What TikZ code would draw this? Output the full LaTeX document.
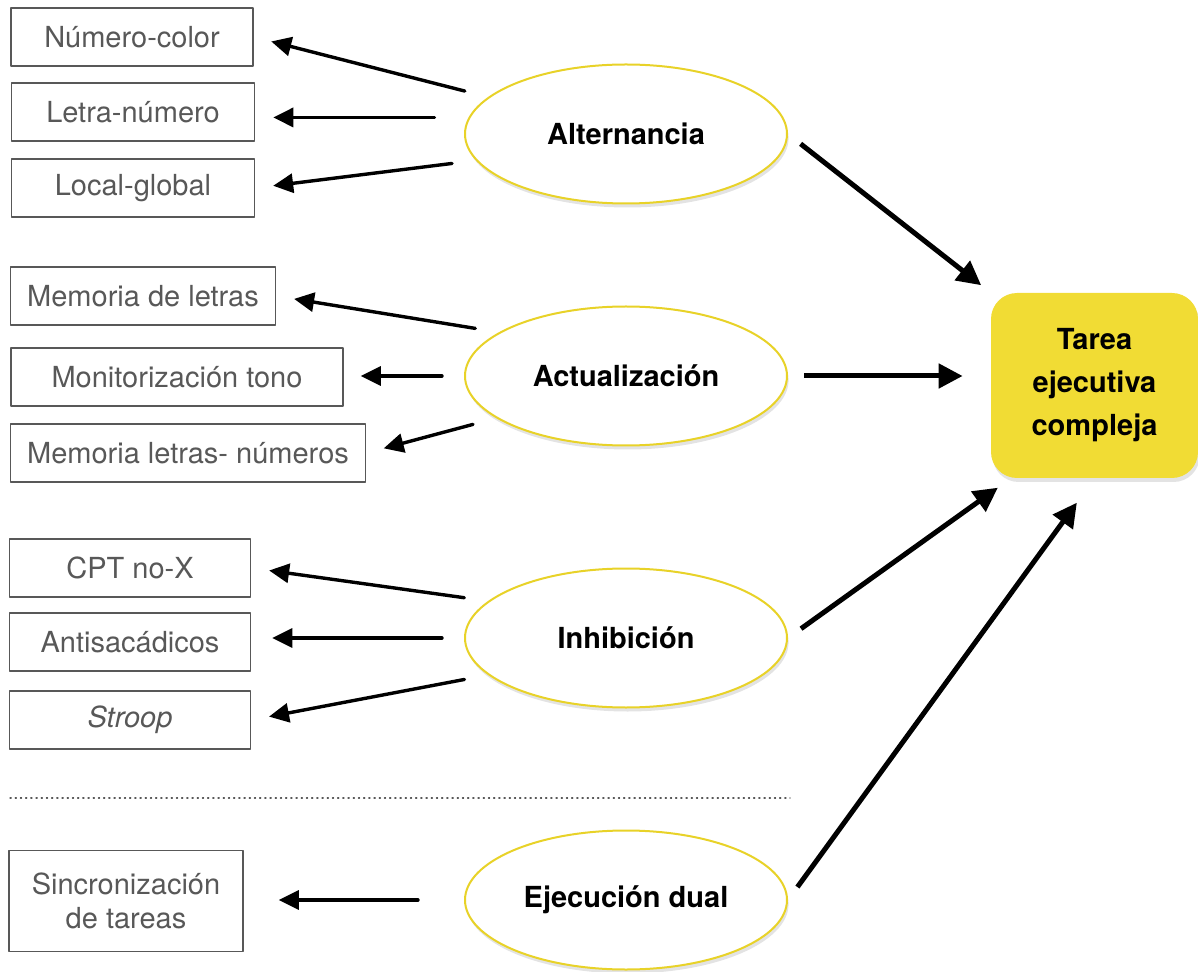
\documentclass[tikz,border=0pt]{standalone}
\usepackage{fontspec}
\setmainfont{TeX Gyre Heros}
\usetikzlibrary{shapes.geometric,arrows.meta,shadows}
\definecolor{tekyellow}{RGB}{241,220,52}
\definecolor{rimyellow}{RGB}{232,210,40}
\definecolor{boxgray}{RGB}{88,88,88}
\begin{document}
\begin{tikzpicture}[x=0.5pt, y=-0.5pt, font=\fontsize{14.5}{17}\selectfont, line join=round, line cap=round,
	taskbox/.style={draw=boxgray, line width=0.8pt, text=boxgray, minimum height=29pt, inner sep=2pt, align=center},
	factor/.style={ellipse, draw=rimyellow, line width=1pt, fill=white, minimum width=161pt, minimum height=69.5pt, inner sep=0pt, font=\fontsize{14.5}{17}\selectfont\bfseries, drop shadow={shadow xshift=0.8pt, shadow yshift=-2pt, opacity=0.22}},
	sketch/.style={-{Triangle[length=10pt, width=9.5pt]}, line width=1.7pt, shorten <=12pt, shorten >=9pt},
	feed/.style={-{Triangle[length=12pt, width=12pt]}, line width=2.5pt, line cap=butt}]
	\useasboundingbox (0,0) rectangle (1198,972);
	\foreach \n/\x/\y/\w/\t in {numcol/132/37/121/Número-color, letnum/133/112/121.5/Letra-número, locglo/133/188/121.5/Local-global, memlet/143/296/132.5/Memoria de letras, montono/177/377/166/Monitorización tono, memnum/188/453/177.5/Memoria letras- números, cpt/130/568/120.5/CPT no-X, antisac/130/642/120.5/Antisacádicos, stroop/130/720/120.5/\textit{Stroop}}
		{\node[taskbox, minimum width=\w pt] (\n) at (\x,\y) {\t};}
	\node[taskbox, minimum width=117pt, minimum height=50.5pt] (sinc) at (126,901) {Sincronización\\de tareas};
	\node[factor] (alt) at (626,134) {Alternancia};
	\node[factor] (act) at (626,376) {Actualización};
	\node[factor] (inh) at (626,638) {Inhibición};
	\node[factor] (dual) at (626,900) {Ejecución dual};
	\node[fill=tekyellow, rounded corners=13pt, minimum width=103.5pt, minimum height=92.5pt, align=center, font=\fontsize{14.5}{21.5}\selectfont\bfseries, drop shadow={shadow xshift=0.8pt, shadow yshift=-2pt, opacity=0.22}] (tek) at (1094.5,385.5) {Tarea\\ejecutiva\\compleja};
	\draw[boxgray, dotted, line width=0.6pt] (10,798) -- (790,798);
	\draw[sketch] (alt.165) -- (numcol.east);
	\draw[sketch, shorten <=17pt] (alt.174) -- (alt.174 -| letnum.east);
	\draw[sketch] (alt.190) -- (locglo.east);
	\draw[sketch] (act.161) -- (memlet.east);
	\draw[sketch, shorten <=11pt, shorten >=8.5pt] (act.west) -- (act.west -| montono.east);
	\draw[sketch] (act.198) -- (memnum.east);
	\draw[sketch] (inh.165) -- (cpt.east);
	\draw[sketch, shorten <=11pt, shorten >=10.5pt] (inh.west) -- (inh.west -| antisac.east);
	\draw[sketch] (inh.195) -- (stroop.east);
	\draw[sketch, shorten <=23pt, shorten >=17.5pt] (dual.west) -- (dual.west -| sinc.east);
	\draw[feed, shorten <=8pt, shorten >=6pt] (alt.east) -- (tek.north west);
	\draw[feed, shorten <=8pt, shorten >=14pt] (act.east) -- (act.east -| tek.west);
	\draw[feed, shorten <=8pt, shorten >=8pt] (inh.east) -- (tek.228);
	\draw[feed, shorten <=8pt, shorten >=15pt] (dual.east) -- (tek.south);
\end{tikzpicture}
\end{document}
